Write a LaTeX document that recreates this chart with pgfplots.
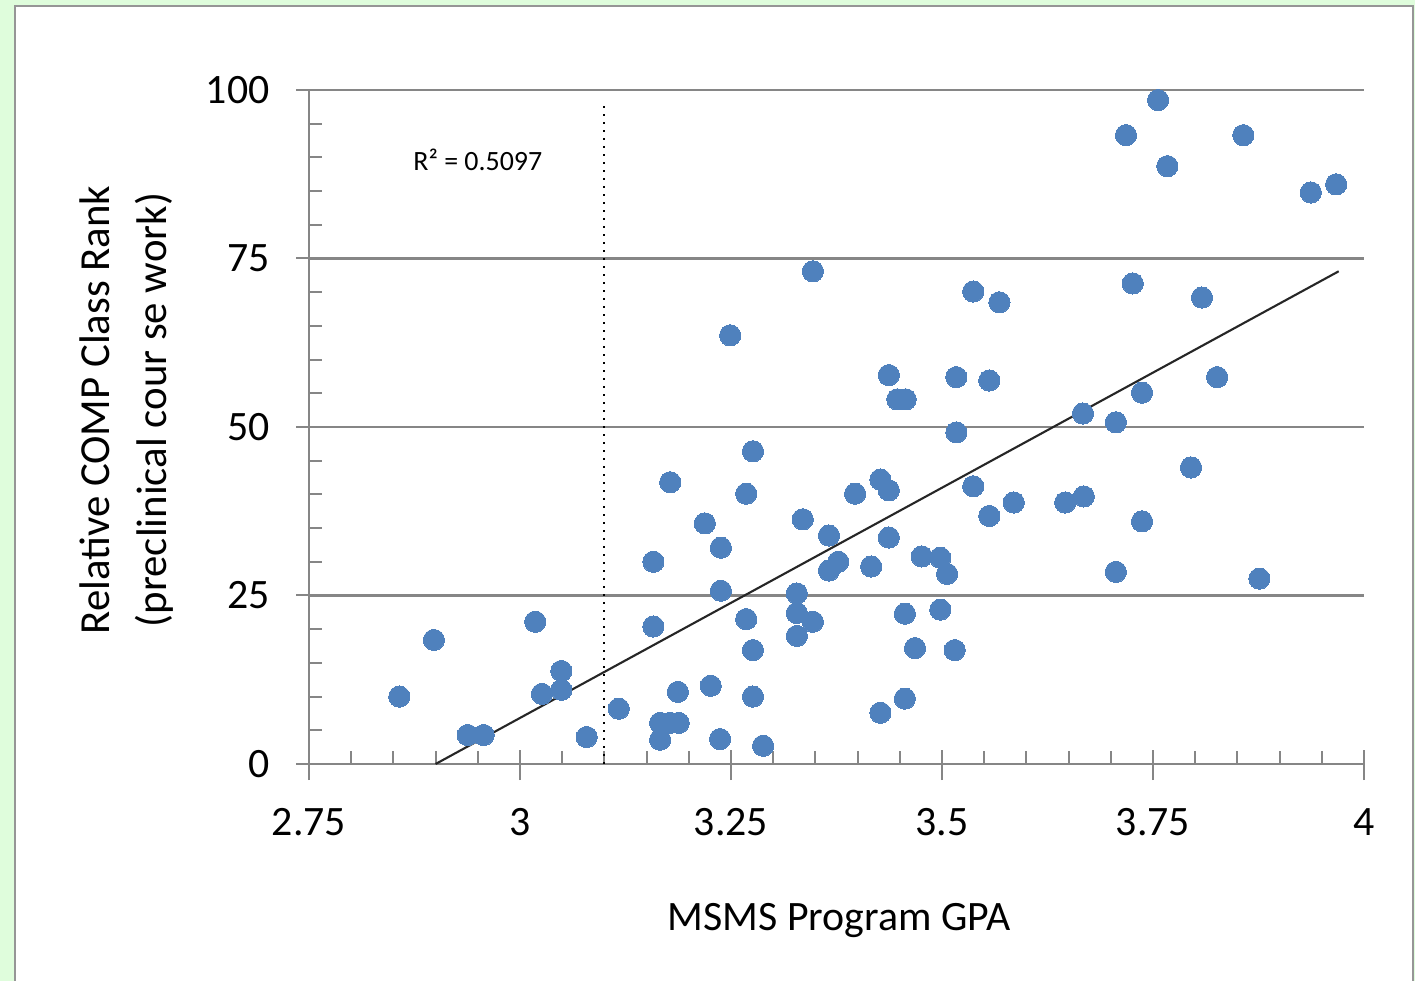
\documentclass[border=0pt]{standalone}
\usepackage{fontspec}
\setmainfont{Carlito}
\usepackage{pgfplots}
\usepackage{pgfplotstable}
\pgfplotsset{compat=1.18}

\definecolor{bgGreen}{RGB}{223,253,220}
\definecolor{frameGray}{RGB}{150,150,150}
\definecolor{axGray}{RGB}{134,134,134}
\definecolor{dotBlue}{RGB}{79,129,189}

% program GPA vs. relative COMP class rank, one row per student
\pgfplotstableread{
gpa rank
2.857 10.0
2.898 18.4
2.938 4.3
2.957 4.3
3.018 21.1
3.026 10.4
3.049 11.0
3.049 13.8
3.079 4.0
3.117 8.2
3.158 30.0
3.158 20.4
3.166 6.1
3.178 6.1
3.188 6.1
3.166 3.6
3.178 41.8
3.187 10.7
3.219 35.7
3.226 11.6
3.238 32.1
3.238 25.7
3.237 3.7
3.249 63.6
3.268 40.1
3.268 21.5
3.276 46.4
3.276 16.9
3.276 10.0
3.288 2.7
3.328 25.3
3.328 22.4
3.328 19.0
3.335 36.3
3.347 73.1
3.347 21.1
3.366 33.9
3.366 28.7
3.377 30.0
3.397 40.1
3.416 29.3
3.427 42.2
3.427 7.6
3.437 57.7
3.437 40.6
3.437 33.6
3.447 54.1
3.457 54.1
3.456 22.3
3.456 9.7
3.468 17.2
3.476 30.8
3.498 30.6
3.506 28.2
3.498 22.9
3.517 57.4
3.517 49.2
3.515 16.9
3.537 70.1
3.537 41.2
3.556 56.9
3.556 36.8
3.568 68.5
3.585 38.8
3.646 38.8
3.668 39.7
3.667 52.0
3.706 50.7
3.706 28.5
3.718 93.3
3.726 71.3
3.737 55.1
3.737 36.0
3.756 98.5
3.767 88.7
3.795 44.0
3.808 69.2
3.826 57.4
3.857 93.3
3.876 27.5
3.937 84.8
3.967 86.0
}\gpadata

\begin{document}
\begin{tikzpicture}
% panel background and frame
\fill[bgGreen] (0,0) rectangle (707.5bp,490.5bp);
\fill[white] (7.5bp,0) rectangle (706.5bp,487.5bp);
\draw[frameGray, line width=1.2bp] (7.5bp,0) -- (7.5bp,487.5bp) -- (706.5bp,487.5bp) -- (706.5bp,0);

\begin{axis}[
  at={(154.5bp,108.5bp)}, anchor=south west,
  scale only axis, width=527.5bp, height=337bp,
  xmin=2.75, xmax=4, ymin=0, ymax=100,
  clip=false,
  axis x line*=bottom, axis y line*=left,
  axis line style={axGray, line width=1.1bp, -},
  xtick={2.75,3,3.25,3.5,3.75,4},
  ytick={0,25,50,75,100},
  minor x tick num=4, minor y tick num=4,
  tick align=inside,
  major tick length=7bp, minor tick length=6.5bp,
  every tick/.style={axGray, line width=1bp},
  extra x ticks={2.75,3,3.25,3.5,3.75,4},
  extra x tick labels={},
  extra x tick style={tick align=outside, major tick length=8bp, grid=none},
  extra y ticks={0,25,50,75,100},
  extra y tick labels={},
  extra y tick style={tick align=outside, major tick length=6.5bp, grid=none},
  ymajorgrids,
  major grid style={axGray, line width=1.1bp},
  tick label style={font=\fontsize{21}{25}\selectfont, text=black,
    /pgf/number format/assume math mode=true},
  xticklabel style={anchor=north, inner sep=0pt, yshift=-22bp},
  yticklabel style={anchor=east, inner sep=0pt, xshift=-19.5bp},
]
\addplot[only marks, mark=*, mark size=5.3bp,
  mark options={fill=dotBlue, draw=dotBlue, line width=0pt}]
  table[x=gpa, y=rank] {\gpadata};
% linear trend line
\addplot[black!85, line width=1.05bp] coordinates {(2.9,0) (3.97,73.1)};
% GPA cut-off at 3.1
\addplot[black, line width=1bp, dash pattern=on 1bp off 3bp] coordinates {(3.1,0) (3.1,98.5)};
\node[font=\fontsize{14}{16}\selectfont] at (axis cs:2.95,89.6) {R² = 0.5097};
\end{axis}

\node[rotate=90, align=center, font=\fontsize{21.5}{28.5}\selectfont]
  at (63.25bp,285.5bp) {Relative COMP Class Rank\\(preclinical cour se work)};
\node[anchor=base, font=\fontsize{21}{25}\selectfont] at (419.5bp,25.5bp) {MSMS Program GPA};

\pgfresetboundingbox
\useasboundingbox (0,0) rectangle (707.5bp,490.5bp);
\end{tikzpicture}
\end{document}
